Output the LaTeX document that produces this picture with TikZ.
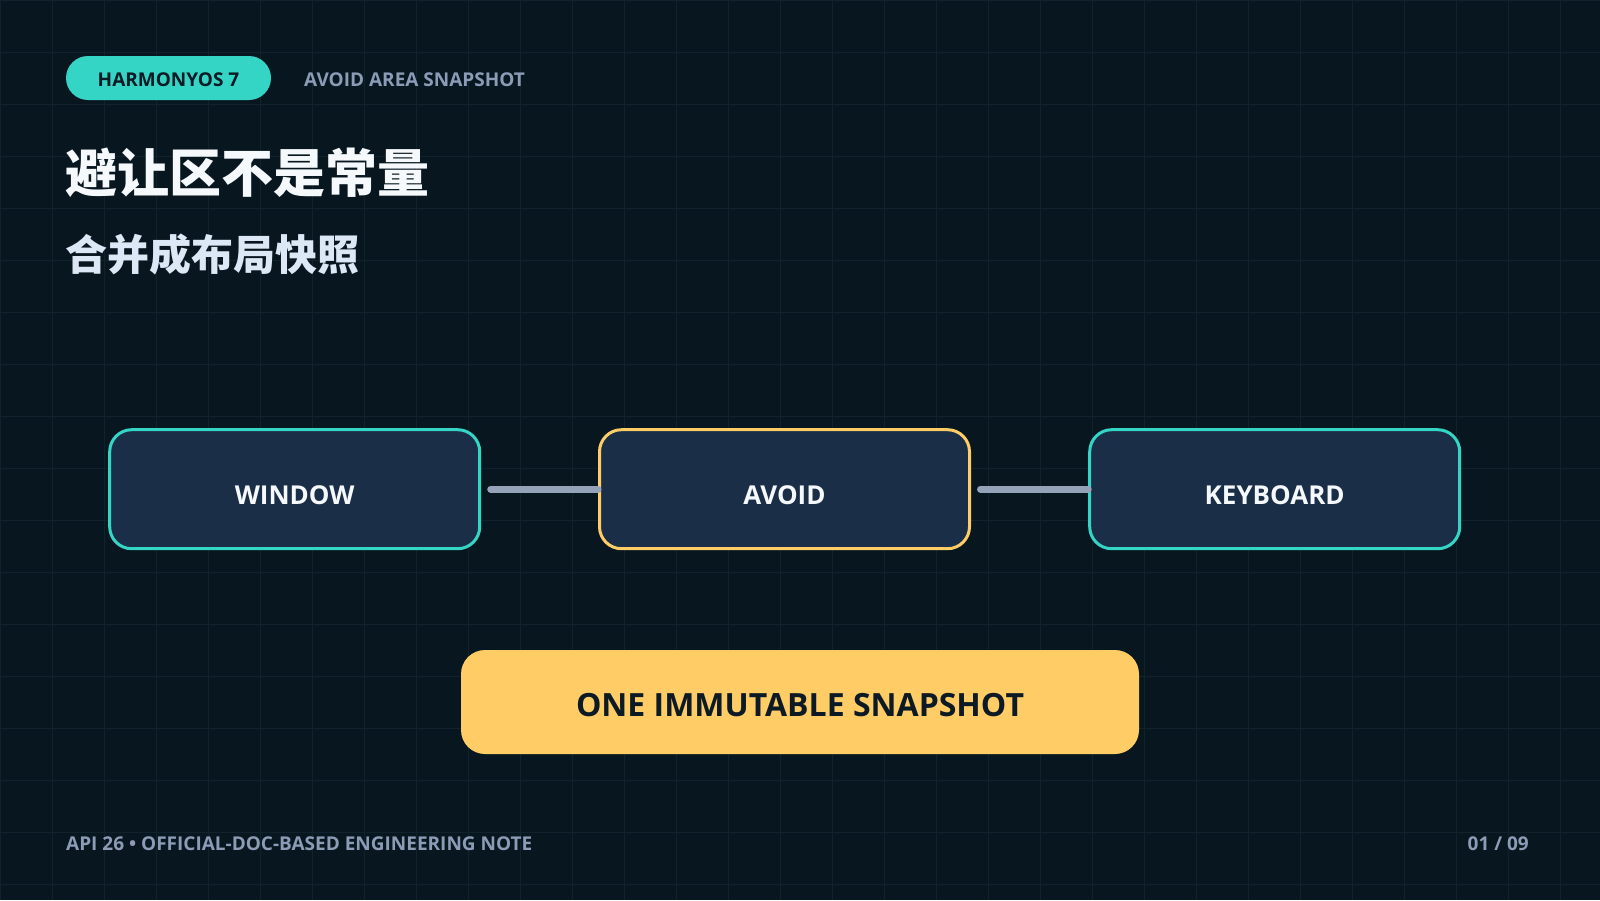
\documentclass[tikz,border=0pt]{standalone}
\usepackage{fontspec}
\setmainfont{Open Sans}
\newfontfamily\cjk{Noto Sans CJK SC}
\definecolor{bg}{HTML}{08171F}
\definecolor{gridc}{HTML}{11222D}
\definecolor{teal}{HTML}{34D5C5}
\definecolor{amber}{HTML}{FFCC66}
\definecolor{boxfill}{HTML}{1A2E47}
\definecolor{muted}{HTML}{8C9CB6}
\definecolor{conn}{HTML}{94A3B8}
\definecolor{ink}{HTML}{0B1A24}
\definecolor{titlec}{HTML}{F6F9FC}
\definecolor{subc}{HTML}{DCE8F5}
\begin{document}
\begin{tikzpicture}[x=1pt,y=-1pt,
  stepbox/.style={draw=teal, line width=3pt, fill=boxfill, rounded corners=22pt,
    minimum width=370pt, minimum height=119pt, inner sep=0pt,
    text height=29.6pt, text depth=0pt, text=titlec,
    font=\fontsize{26}{30}\selectfont\bfseries},
  connector/.style={draw=conn, line width=7pt, line cap=round},
  mutedtxt/.style={text=muted, inner sep=0pt, font=\fontsize{19}{23}\selectfont\bfseries},
]
\fill[bg] (0,0) rectangle (1600,900);
\useasboundingbox (0,0) rectangle (1600,900);
\foreach \i in {0,52,...,1600} \draw[gridc, line width=1pt] (\i,0) -- (\i,900);
\foreach \j in {0,52,...,900} \draw[gridc, line width=1pt] (0,\j) -- (1600,\j);

% header
\node[fill=teal, rounded corners=22pt, minimum width=205pt, minimum height=44pt,
  inner sep=0pt, text height=16pt, text depth=0pt, text=ink,
  font=\fontsize{19}{23}\selectfont\bfseries] (tag) at (168.5,78) {HARMONYOS 7};
\node[mutedtxt, anchor=base west] (kicker) at (304,86) {AVOID AREA SNAPSHOT};

\node[anchor=west, inner sep=0pt, text=titlec,
  font=\cjk\fontsize{52}{60}\selectfont\bfseries] (title) at (65,172.5) {避让区不是常量};
\node[anchor=west, inner sep=0pt, text=subc,
  font=\cjk\fontsize{42}{50}\selectfont\bfseries] (subtitle) at (65,254) {合并成布局快照};

% flow
\node[stepbox] (win) at (294.7,489.2) {WINDOW};
\node[stepbox, draw=amber] (avoid) at (784.5,489.2) {AVOID};
\node[stepbox] (kbd) at (1274.7,489.2) {KEYBOARD};
\draw[connector] ([xshift=9.5pt]win.east) -- (avoid.west);
\draw[connector] ([xshift=9.5pt]avoid.east) -- (kbd.west);

\node[fill=amber, rounded corners=24pt, minimum width=678pt, minimum height=104pt,
  inner sep=0pt, text height=28pt, text depth=0pt, text=ink,
  font=\fontsize{32}{38}\selectfont\bfseries] (snap) at (800,702) {ONE IMMUTABLE SNAPSHOT};

% footer
\node[mutedtxt, anchor=base west] (foot) at (66,850) {API 26 • OFFICIAL-DOC-BASED ENGINEERING NOTE};
\node[mutedtxt, anchor=base east] (page) at (1529,850) {01 / 09};
\end{tikzpicture}
\end{document}
